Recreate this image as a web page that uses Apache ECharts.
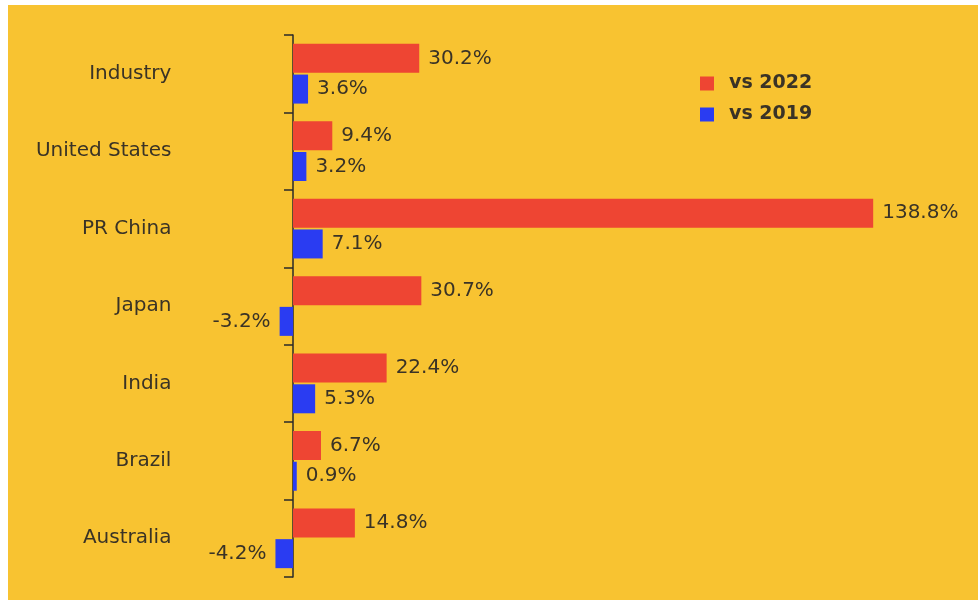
<!DOCTYPE html>
<html>
<head>
<meta charset="utf-8">
<script src="https://cdn.jsdelivr.net/npm/echarts@6/dist/echarts.min.js"></script>
<style>
html,body{margin:0;padding:0;background:#fff;width:978px;height:600px;overflow:hidden;}
#c{position:absolute;left:8px;top:5px;width:970px;height:595px;}
</style>
</head>
<body>
<div id="c"></div>
<script>
const categories = ['Industry', 'United States', 'PR China', 'Japan', 'India', 'Brazil', 'Australia'];
const vs2022 = [30.2, 9.4, 138.8, 30.7, 22.4, 6.7, 14.8];
const vs2019 = [3.6, 3.2, 7.1, -3.2, 5.3, 0.9, -4.2];
const seriesNames = ['vs 2022', 'vs 2019'];

const RED = '#EE4533';
const BLUE = '#2A3CF2';
const TEXT = '#3a3326';
const FONT = 'DejaVu Sans';

function toItems(arr) {
  return arr.map(v => ({
    value: v,
    label: { position: v < 0 ? 'left' : 'right' }
  }));
}

const chart = echarts.init(document.getElementById('c'));
chart.setOption({
  backgroundColor: '#F8C331',
  animation: false,
  textStyle: { fontFamily: FONT },
  legend: {
    orient: 'vertical',
    left: 687,
    top: 64,
    itemWidth: 14,
    itemHeight: 14,
    itemGap: 12,
    icon: 'rect',
    data: seriesNames,
    textStyle: { fontFamily: FONT, fontSize: 19, fontWeight: 'bold', color: TEXT, padding: [0, 0, 0, 10] }
  },
  grid: { left: 201.4, top: 30, width: 752.4, bottom: 23, containLabel: false, outerBoundsMode: 'none' },
  xAxis: {
    type: 'value',
    min: -20,
    max: 160,
    show: false
  },
  yAxis: {
    type: 'category',
    data: categories,
    inverse: true,
    axisLine: { show: true, onZero: true, lineStyle: { color: '#2a2a2a', width: 1.5 } },
    axisTick: { show: true, length: 9, inside: false, lineStyle: { color: '#2a2a2a', width: 1.5 } },
    axisLabel: { margin: 38, fontSize: 20, color: TEXT, fontFamily: FONT, padding: [5, 0, 0, 0] },
    splitLine: { show: false }
  },
  series: [
    {
      name: seriesNames[0],
      type: 'bar',
      data: toItems(vs2022),
      barWidth: 29,
      barGap: '6%',
      itemStyle: { color: RED },
      label: { show: true, distance: 9, fontSize: 20, color: TEXT, fontFamily: FONT, padding: [3, 0, 0, 0], formatter: p => p.value.toFixed(1) + '%' }
    },
    {
      name: seriesNames[1],
      type: 'bar',
      data: toItems(vs2019),
      barWidth: 29,
      barGap: '6%',
      itemStyle: { color: BLUE },
      label: { show: true, distance: 9, fontSize: 20, color: TEXT, fontFamily: FONT, padding: [3, 0, 0, 0], formatter: p => p.value.toFixed(1) + '%' }
    }
  ]
});
</script>
</body>
</html>
